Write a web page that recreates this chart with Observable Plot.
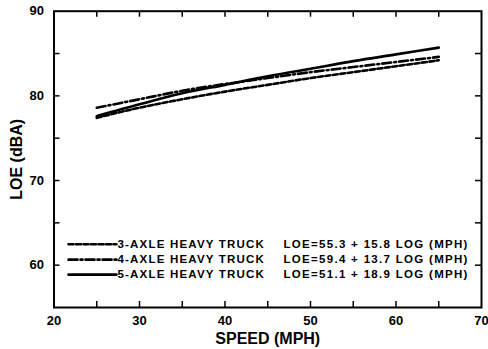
<!DOCTYPE html>
<html>
<head>
<meta charset="utf-8">
<script src="https://cdn.jsdelivr.net/npm/d3@7"></script>
<script src="https://cdn.jsdelivr.net/npm/@observablehq/plot@0.6"></script>
<style>
  html, body { margin: 0; padding: 0; background: #fff; }
  #chart svg { font-family: "Liberation Sans", Arial, sans-serif; font-weight: bold; }
</style>
</head>
<body>
<div id="chart"></div>
<script>
// Data
const speeds = [25, 30, 35, 40, 45, 50, 55, 60, 65];
const axle3 = [77.4, 78.6, 79.6, 80.5, 81.3, 82.1, 82.8, 83.5, 84.2];
const axle4 = [78.6, 79.6, 80.6, 81.4, 82.1, 82.8, 83.4, 84.0, 84.6];
const axle5 = [77.6, 79.0, 80.3, 81.3, 82.3, 83.2, 84.1, 84.9, 85.7];

const seriesNames = ["3-AXLE HEAVY TRUCK", "4-AXLE HEAVY TRUCK", "5-AXLE HEAVY TRUCK"];
const equations = ["LOE=55.3 + 15.8 LOG (MPH)", "LOE=59.4 + 13.7 LOG (MPH)", "LOE=51.1 + 18.9 LOG (MPH)"];
const dashes = ["5,2.5", "9,3,2,3", null];

const xTicksMajor = [20, 30, 40, 50, 60, 70];
const xTicksAll = [25, 30, 35, 40, 45, 50, 55, 60, 65];
const yTicksMajor = [60, 70, 80, 90];
const yTicksAll = [60, 65, 70, 75, 80, 85];

// legend placement in data units
const legendY = [62.47, 60.65, 58.88];
const legendX1 = 21.7, legendX2 = 27.3, legendEqX = 46.84;

const allSeries = [axle3, axle4, axle5];
const rows = [];
allSeries.forEach((vals, i) => speeds.forEach((s, j) => rows.push({series: i, speed: s, loe: vals[j]})));
const legendRows = [];
legendY.forEach((y, i) => { legendRows.push({series: i, x: legendX1, y}); legendRows.push({series: i, x: legendX2, y}); });
const legendText = seriesNames.map((n, i) => ({name: n, eq: equations[i], y: legendY[i]}));

const W = 488, H = 349;
const mT = 10.7, mB = 42, mL = 53.5, mR = 7;
const innerH = H - mT - mB, innerW = W - mL - mR;
const tk = 6;

const marks = [];
// inward ticks
marks.push(Plot.tickX(xTicksAll, {x: d => d, insetTop: innerH - tk, stroke: "black", strokeWidth: 1.5}));
marks.push(Plot.tickX(xTicksAll, {x: d => d, insetBottom: innerH - tk, stroke: "black", strokeWidth: 1.5}));
marks.push(Plot.tickY(yTicksAll, {y: d => d, insetRight: innerW - tk, stroke: "black", strokeWidth: 1.5}));
marks.push(Plot.tickY(yTicksAll, {y: d => d, insetLeft: innerW - tk, stroke: "black", strokeWidth: 1.5}));
marks.push(Plot.frame({stroke: "black", strokeWidth: 2}));
// data lines
for (let i = 0; i < 3; i++) {
  marks.push(Plot.line(rows.filter(r => r.series === i), {
    x: "speed", y: "loe", stroke: "black", strokeWidth: 2.6,
    strokeDasharray: dashes[i], curve: "monotone-x"
  }));
  marks.push(Plot.line(legendRows.filter(r => r.series === i), {
    x: "x", y: "y", stroke: "black", strokeWidth: 2.6, strokeDasharray: dashes[i]
  }));
}
marks.push(Plot.text(legendText, {x: legendX2, y: "y", text: "name", textAnchor: "start", dx: 1, fontSize: 11.5, fill: "black"}));
marks.push(Plot.text(legendText, {x: legendEqX, y: "y", text: "eq", textAnchor: "start", fontSize: 11.5, fill: "black"}));

const chart = Plot.plot({
  width: W, height: H,
  marginTop: mT, marginBottom: mB, marginLeft: mL, marginRight: mR,
  style: {fontFamily: "'Liberation Sans', Arial, sans-serif", fontWeight: "bold", color: "black", background: "white"},
  x: {domain: [20, 70]},
  y: {domain: [55, 90]},
  marks: [
    Plot.axisX({ticks: xTicksMajor, tickSize: 0, tickPadding: 8, fontSize: 13, tickFormat: d => String(d), label: null}),
    Plot.axisX({ticks: [], tickSize: 0, fontSize: 16, label: "SPEED (MPH)", labelAnchor: "center", labelOffset: 36, labelArrow: "none"}),
    Plot.axisY({ticks: yTicksMajor, tickSize: 0, tickPadding: 10, fontSize: 13, tickFormat: d => String(d), label: null}),
    Plot.axisY({ticks: [], tickSize: 0, fontSize: 16, label: "LOE (dBA)", labelAnchor: "center", labelOffset: 43.5, labelArrow: "none"}),
    ...marks
  ]
});
// widen legend lettering to match the reference
chart.querySelectorAll("text").forEach(t => {
  const s = t.textContent;
  if (seriesNames.includes(s)) t.setAttribute("letter-spacing", "1.2");
  else if (equations.includes(s)) t.setAttribute("letter-spacing", "1.3");
});
document.getElementById("chart").appendChild(chart);
</script>
</body>
</html>
